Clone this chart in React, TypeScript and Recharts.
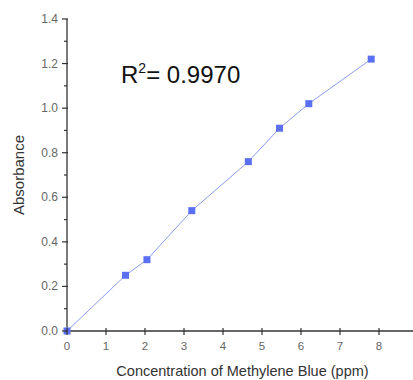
import React from 'react';
import { LineChart, Line, XAxis, YAxis, Label } from 'recharts';

const concentration = [0, 1.5, 2.05, 3.2, 4.65, 5.45, 6.2, 7.8];
const absorbance = [0, 0.25, 0.32, 0.54, 0.76, 0.91, 1.02, 1.22];
const xTicks = [0, 1, 2, 3, 4, 5, 6, 7, 8, 9];
const yTicks = [0, 0.1, 0.2, 0.3, 0.4, 0.5, 0.6, 0.7, 0.8, 0.9, 1.0, 1.1, 1.2, 1.3, 1.4];

const data = concentration.map((x, i) => ({ x, y: absorbance[i] }));

const FONT = '"Liberation Sans", Arial, sans-serif';
const AXIS = '#333';
const TICK_TEXT = '#666';

const XTick = ({ x, y, payload }: any) => (
  <g>
    <line x1={x} x2={x} y1={y - 3} y2={y + 4} stroke={AXIS} strokeWidth={1.2} />
    <text x={x} y={y + 19} textAnchor="middle" fontSize={11.5} fill={TICK_TEXT} fontFamily={FONT}>
      {payload.value}
    </text>
  </g>
);

const YTick = ({ x, y, payload }: any) => {
  const major = Math.round(payload.value * 10) % 2 === 0;
  if (!major) {
    return <line x1={x - 3} x2={x} y1={y} y2={y} stroke={AXIS} strokeWidth={1.2} />;
  }
  return (
    <g>
      <line x1={x - 5} x2={x + 1} y1={y} y2={y} stroke={AXIS} strokeWidth={1.2} />
      <text x={x - 9} y={y + 4} textAnchor="end" fontSize={12} fill={TICK_TEXT} fontFamily={FONT}>
        {payload.value.toFixed(1)}
      </text>
    </g>
  );
};

const SquareDot = ({ cx, cy }: any) => (
  <rect x={cx - 3.5} y={cy - 3.5} width={7} height={7} fill="#5a6ff2" />
);

export default function App() {
  return (
    <div style={{ position: 'absolute', left: 0, top: 0, width: 413, height: 380, overflow: 'hidden', background: '#fff' }}>
      <LineChart width={430} height={380} data={data} margin={{ top: 19, right: 12, bottom: 19, left: 0 }}>
        <XAxis
          type="number"
          dataKey="x"
          domain={[0, 9]}
          ticks={xTicks}
          interval={0}
          height={30}
          tickSize={0}
          tickMargin={0}
          tick={<XTick />}
          stroke={AXIS}
          strokeWidth={1.3}
        >
          <Label
            value="Concentration of Methylene Blue (ppm)"
            position="bottom"
            offset={5}
            style={{ fontSize: 14.5, fill: '#333', fontFamily: FONT }}
          />
        </XAxis>
        <YAxis
          type="number"
          domain={[0, 1.4]}
          ticks={yTicks}
          interval={0}
          width={67}
          tickSize={0}
          tickMargin={0}
          tick={<YTick />}
          stroke={AXIS}
          strokeWidth={1.3}
        >
          <Label
            content={({ viewBox }: any) => {
              const cx = 18.5;
              const cy = viewBox.y + viewBox.height / 2;
              return (
                <text
                  x={cx}
                  y={cy}
                  transform={`rotate(-90 ${cx} ${cy})`}
                  textAnchor="middle"
                  dominantBaseline="central"
                  fontSize={15}
                  fill="#333"
                  fontFamily={FONT}
                >
                  Absorbance
                </text>
              );
            }}
          />
        </YAxis>
        <Line
          dataKey="y"
          stroke="#8c9cf0"
          strokeWidth={1}
          dot={<SquareDot />}
          activeDot={false}
          isAnimationActive={false}
        />
      </LineChart>
      <div
        style={{
          position: 'absolute',
          left: 121,
          top: 62.7,
          fontFamily: FONT,
          fontSize: 24,
          lineHeight: '24px',
          color: '#111',
          whiteSpace: 'nowrap',
        }}
      >
        R<span style={{ fontSize: 14, position: 'relative', top: -10 }}>2</span>= 0.9970
      </div>
    </div>
  );
}
